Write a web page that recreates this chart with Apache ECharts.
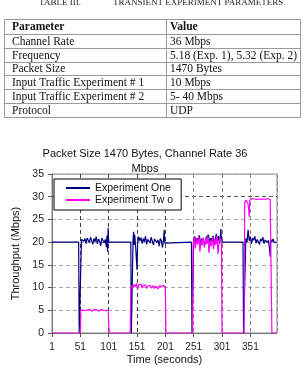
<!DOCTYPE html>
<html>
<head>
<meta charset="utf-8">
<script src="https://cdn.jsdelivr.net/npm/echarts@6/dist/echarts.min.js"></script>
<style>
html, body { margin: 0; padding: 0; background: #fff; }
#main { width: 307px; height: 375px; }
</style>
</head>
<body>
<div id="main"></div>
<script>
// table above the chart
var tableTitle = ['TABLE III.', 'TRANSIENT EXPERIMENT PARAMETERS'];
var tableHead = ['Parameter', 'Value'];
var paramNames = ['Channel Rate', 'Frequency', 'Packet Size', 'Input Traffic Experiment # 1', 'Input Traffic Experiment # 2', 'Protocol'];
var paramValues = ['36 Mbps', '5.18 (Exp. 1), 5.32 (Exp. 2)', '1470 Bytes', '10 Mbps', '5- 40 Mbps', 'UDP'];

// throughput samples, [time (s), Mbps]
var expOne = [
	[1, 20], [48, 20], [49, 0], [52, 0], [53, 20.6], [55, 21.0], [57, 20.2], [59, 20.8], [61, 19.7], [63, 20.9],
	[65, 20.4], [67, 19.9], [69, 21.1], [71, 20.3], [73, 19.5], [75, 20.8], [77, 20.1], [79, 21.2], [81, 19.6],
	[83, 20.7], [85, 20.2], [87, 19.2], [89, 20.9], [91, 21.3], [93, 19.8], [95, 20.6], [97, 18.9], [98, 21.4],
	[99, 17.9], [100, 23.1], [101, 20],
	[140, 20], [141, 0], [143, 0], [144, 20.5], [145, 22.3], [146, 19.4], [147, 21.6], [149, 18.2], [151, 13.9],
	[152, 19.6], [154, 21.2], [156, 20.3], [158, 21.0], [160, 19.7], [162, 20.8], [164, 20.1], [166, 21.3],
	[168, 19.5], [170, 20.6], [172, 20.9], [174, 19.8], [176, 21.1], [178, 20.2], [180, 19.4], [182, 20.7],
	[184, 21.0], [186, 19.9], [188, 20.5], [190, 19.1], [192, 20.8], [194, 20.3], [196, 18.8], [198, 20.9],
	[199, 22.7], [200, 19.8], [201, 20],
	[247, 20], [248, 0], [250, 0], [251, 20.4], [253, 21.3], [255, 19.8], [257, 20.9], [259, 20.4], [261, 21.5],
	[263, 19.6], [265, 20.8], [267, 21.2], [269, 20.1], [271, 19.5], [273, 21.0], [275, 20.6], [277, 21.6],
	[279, 19.8], [281, 20.9], [283, 20.3], [285, 21.4], [287, 19.4], [289, 20.7], [291, 21.8], [293, 20.0],
	[295, 21.3], [297, 19.7], [299, 22.9], [300, 20.5], [301, 20],
	[338, 20], [339, 0], [342, 0], [343, 20.8], [345, 19.9], [347, 22.7], [349, 20.3], [351, 21.2], [353, 19.6],
	[355, 20.9], [357, 20.4], [359, 21.3], [361, 19.8], [363, 20.6], [365, 21.0], [367, 19.5], [369, 20.7],
	[371, 20.2], [373, 21.1], [375, 19.7], [377, 20.5], [379, 20.9], [381, 19.9], [383, 20.4], [385, 18.4],
	[386, 16.8], [387, 20.6], [389, 20.1], [391, 20.7], [393, 19.9], [395, 20.3], [397, 20.0], [398, 20]
];
var expTwo = [
	[1, 0], [51, 0], [52, 5.1], [54, 5.3], [56, 5.0], [58, 5.2], [60, 4.9], [62, 5.2], [64, 5.1], [66, 4.9],
	[68, 5.2], [70, 5.0], [72, 4.8], [74, 5.1], [76, 5.2], [78, 4.9], [80, 5.1], [82, 5.0], [84, 4.8], [86, 5.1],
	[88, 5.2], [90, 4.9], [92, 5.0], [94, 5.3], [96, 4.9], [98, 5.1], [100, 5.0], [101, 4.9], [102, 0],
	[139, 0], [140, 9.8], [142, 10.4], [144, 9.9], [146, 10.7], [148, 10.2], [150, 10.9], [152, 9.7], [154, 10.6],
	[156, 10.3], [158, 10.8], [160, 9.9], [162, 10.5], [164, 10.1], [166, 10.6], [168, 9.8], [170, 10.3],
	[172, 10.0], [174, 10.5], [176, 9.9], [178, 10.2], [180, 10.4], [182, 9.8], [184, 10.3], [186, 10.1],
	[188, 9.7], [190, 10.4], [192, 10.0], [194, 10.2], [196, 9.8], [198, 10.5], [200, 10.1], [201, 10.0], [202, 0],
	[249, 0], [250, 19.4], [252, 21.2], [254, 18.6], [256, 20.8], [258, 19.5], [260, 21.4], [262, 17.9], [264, 20.6],
	[266, 19.2], [268, 21.0], [270, 18.8], [272, 20.9], [274, 19.6], [276, 21.3], [278, 17.6], [280, 20.4],
	[282, 19.1], [284, 21.1], [286, 18.5], [288, 20.7], [290, 19.4], [292, 21.5], [294, 17.4], [296, 20.2],
	[298, 21.0], [300, 20.2], [301, 0],
	[340, 0], [341, 28.6], [343, 29.3], [345, 29.0], [347, 28.4], [349, 25.6], [350, 29.2], [352, 29.4], [354, 29.6],
	[356, 29.3], [358, 29.5], [360, 29.7], [362, 29.4], [364, 29.6], [366, 29.5], [368, 29.7], [370, 29.4],
	[372, 29.6], [374, 29.5], [376, 29.6], [378, 29.4], [380, 29.5], [382, 29.6], [384, 29.5], [386, 29.4],
	[388, 29.5], [389, 0], [398, 0]
];

var serif = '"Liberation Serif", "Times New Roman", serif';
var sans = '"Liberation Sans", Arial, sans-serif';
var lineGray = '#999';

// table drawn as graphic elements
var rowLines = [19.5, 34.5, 48.5, 62.5, 75.5, 89.5, 103.5, 117.5];
var tableLeft = 4.5, tableRight = 300.5, colSplit = 166.5;
var graphics = [];
graphics.push({ type: 'text', style: { text: tableTitle[0], x: 60, y: 3, align: 'center', verticalAlign: 'middle', fontFamily: serif, fontSize: 9, fill: '#222' } });
graphics.push({ type: 'text', style: { text: tableTitle[1], x: 113, y: 3, verticalAlign: 'middle', fontFamily: serif, fontSize: 9, fill: '#222' } });
for (var i = 0; i < rowLines.length; i++) {
	graphics.push({ type: 'line', shape: { x1: tableLeft, y1: rowLines[i], x2: tableRight, y2: rowLines[i] }, style: { stroke: lineGray, lineWidth: 1 } });
}
graphics.push({ type: 'line', shape: { x1: tableLeft, y1: rowLines[0], x2: tableLeft, y2: rowLines[rowLines.length - 1] }, style: { stroke: lineGray, lineWidth: 1 } });
graphics.push({ type: 'line', shape: { x1: tableRight, y1: rowLines[0], x2: tableRight, y2: rowLines[rowLines.length - 1] }, style: { stroke: lineGray, lineWidth: 1 } });
graphics.push({ type: 'line', shape: { x1: colSplit, y1: rowLines[0], x2: colSplit, y2: rowLines[rowLines.length - 1] }, style: { stroke: lineGray, lineWidth: 1 } });
var cellText = function(text, x, row, bold) {
	return {
		type: 'text',
		style: {
			text: text, x: x, y: (rowLines[row] + rowLines[row + 1]) / 2,
			verticalAlign: 'middle', fontFamily: serif, fontSize: 11.5,
			fontWeight: bold ? 'bold' : 'normal', fill: '#111'
		}
	};
};
graphics.push(cellText(tableHead[0], 12, 0, true));
graphics.push(cellText(tableHead[1], 170, 0, true));
for (var r = 0; r < paramNames.length; r++) {
	graphics.push(cellText(paramNames[r], 12, r + 1, false));
	graphics.push(cellText(paramValues[r], 170, r + 1, false));
}

var myChart = echarts.init(document.getElementById('main'));
var option = {
	animation : false,
	textStyle : { fontFamily : sans },
	title : {
		text : 'Packet Size 1470 Bytes, Channel Rate 36\nMbps',
		left : 145,
		top : 146,
		padding : 0,
		textAlign : 'center',
		textStyle : { fontSize : 11, fontWeight : 'normal', color : '#111', lineHeight : 15, fontFamily : sans }
	},
	legend : {
		orient : 'vertical',
		left : 54,
		top : 179,
		padding : [3, 8, 4, 12],
		itemGap : 0,
		itemWidth : 24,
		itemHeight : 2,
		icon : 'rect',
		backgroundColor : '#fff',
		borderColor : '#000',
		borderWidth : 1,
		borderRadius : 0,
		textStyle : { fontSize : 10.5, color : '#111', lineHeight : 12, fontFamily : sans },
		data : ['Experiment One', 'Experiment Tw o']
	},
	graphic : graphics,
	grid : {
		left : 52,
		right : 30,
		top : 174,
		bottom : 42,
		show : true,
		borderColor : '#888',
		borderWidth : 1
	},
	xAxis : {
		type : 'value',
		min : 1,
		max : 398,
		interval : 50,
		name : 'Time (seconds)',
		nameLocation : 'middle',
		nameGap : 21,
		nameTextStyle : { fontSize : 11, color : '#111' },
		axisLine : { show : true, lineStyle : { color : '#777' } },
		axisTick : { show : true, length : 4, lineStyle : { color : '#555' } },
		axisLabel : { fontSize : 10, color : '#222', margin : 9, showMaxLabel : false },
		splitLine : {
			show : true,
			lineStyle : { color : ['#888', '#444', '#444', '#444', '#444', '#888', '#777', '#888', '#888'], type : [4, 3] }
		}
	},
	yAxis : {
		type : 'value',
		min : 0,
		max : 35,
		interval : 5,
		name : 'Throughput (Mbps)',
		nameLocation : 'middle',
		nameGap : 29,
		nameTextStyle : { fontSize : 11, color : '#111' },
		axisLine : { show : true, lineStyle : { color : '#777' } },
		axisTick : { show : true, length : 4, lineStyle : { color : '#555' } },
		axisLabel : { fontSize : 10.5, color : '#222', margin : 8 },
		splitLine : {
			show : true,
			lineStyle : { color : ['#aaa', '#aaa', '#aaa', '#aaa', '#aaa', '#aaa', '#555', '#aaa'], type : [4, 3] }
		}
	},
	series : [ {
		name : 'Experiment One',
		type : 'line',
		data : expOne,
		symbol : 'none',
		lineStyle : { color : '#000080', width : 1.2 },
		itemStyle : { color : '#000080' }
	}, {
		name : 'Experiment Tw o',
		type : 'line',
		data : expTwo,
		symbol : 'none',
		lineStyle : { color : '#ff00ff', width : 1.2 },
		itemStyle : { color : '#ff00ff' }
	} ]
};
myChart.setOption(option);
</script>
</body>
</html>
